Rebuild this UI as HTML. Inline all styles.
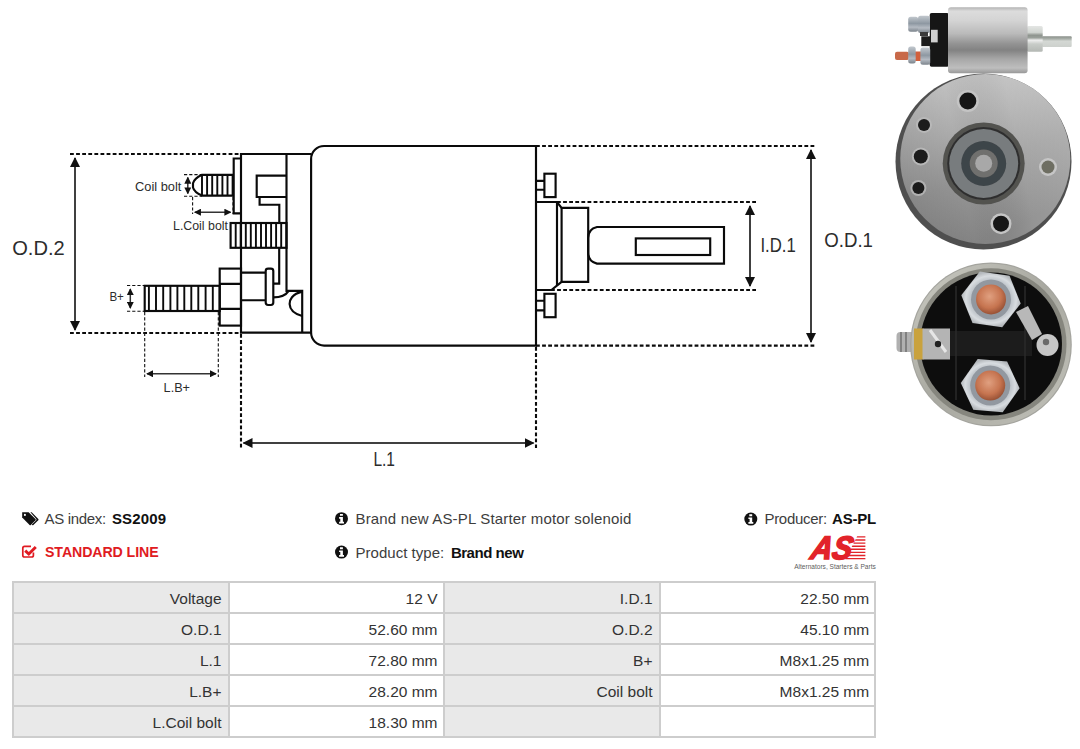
<!DOCTYPE html>
<html lang="en">
<head>
<meta charset="utf-8">
<title>SS2009 - Starter motor solenoid</title>
<style>
html,body{margin:0;padding:0;background:#fff;}
body{width:1080px;height:749px;position:relative;overflow:hidden;font-family:"Liberation Sans",sans-serif;color:#333;}
#dia{position:absolute;left:0;top:0;width:1080px;height:749px;}
#dia text{font-family:"Liberation Sans",sans-serif;fill:#2c2c2c;}
.info{position:absolute;font-size:15px;line-height:20px;white-space:nowrap;color:#3d3d3d;}
.info b{color:#111;font-weight:bold;}
.info svg{position:absolute;}
.red{color:#e01b22;}
table{position:absolute;left:12px;top:581px;width:864px;border-collapse:collapse;table-layout:fixed;font-size:15.5px;}
td{height:31px;padding:2px 6px 0 0;text-align:right;border:2px solid #cdcdcd;color:#333;box-sizing:border-box;}
td.l{background:#e9e9e9;}
td:nth-child(4){padding-right:4.8px;}
td:nth-child(2){padding-right:5.5px;}
</style>
</head>
<body>
<svg id="dia" viewBox="0 0 1080 749">
<defs>
<marker id="ah" viewBox="0 0 10 10" refX="9" refY="5" markerWidth="10" markerHeight="10" markerUnits="userSpaceOnUse" orient="auto-start-reverse"><path d="M0 0L10 5L0 10Z" fill="#111"/></marker>
<marker id="as" viewBox="0 0 8 8" refX="7" refY="4" markerWidth="7" markerHeight="7" markerUnits="userSpaceOnUse" orient="auto-start-reverse"><path d="M0 0L8 4L0 8Z" fill="#111"/></marker>
</defs>
<!-- heavy dashed extension lines -->
<g fill="none" stroke="#0b0b0b" stroke-width="2.1" stroke-dasharray="3.8 2.3">
<path d="M70 154H241"/><path d="M70 333H241"/>
<path d="M536 146H816"/><path d="M536 345.6H816"/>
<path d="M557 202H756"/><path d="M551 290H756"/>
<path d="M241 334V448"/><path d="M536 347V448"/>
</g>
<!-- thin dashed lines -->
<g fill="none" stroke="#111" stroke-width="1.1" stroke-dasharray="3.2 2">
<path d="M184 174.6H202"/><path d="M184 196.2H202"/>
<path d="M192.6 197V214"/><path d="M233 197V214"/>
<path d="M127 285.5H144.7"/><path d="M127 311.3H144.7"/>
<path d="M144.7 312V377"/><path d="M218.3 312V377"/>
</g>
<!-- dimension arrows -->
<g fill="none" stroke="#404040" stroke-width="2">
<path d="M75 158V330" marker-start="url(#ah)" marker-end="url(#ah)"/>
<path d="M811 150V342" marker-start="url(#ah)" marker-end="url(#ah)"/>
<path d="M750 206V286" marker-start="url(#ah)" marker-end="url(#ah)"/>
<path d="M243.5 443H533.5" marker-start="url(#ah)" marker-end="url(#ah)"/>
</g>
<g fill="none" stroke="#333" stroke-width="1.5">
<path d="M187.8 177.5V193.5" marker-start="url(#as)" marker-end="url(#as)"/>
<path d="M194.8 212.2H230.5" marker-start="url(#as)" marker-end="url(#as)"/>
<path d="M130.3 289V308" marker-start="url(#as)" marker-end="url(#as)"/>
<path d="M147 373.8H216" marker-start="url(#as)" marker-end="url(#as)"/>
</g>
<!-- solenoid outline -->
<g fill="none" stroke="#0a0a0a" stroke-width="2.15" stroke-linejoin="miter">
<path d="M536 146H324.1A13 13 0 0 0 311.1 159V332.6A13 13 0 0 0 324.1 345.6H536Z"/>
<path d="M311.1 154H241V332.6H311.1"/>
<path d="M286.5 154V290.8H302.2V332.6"/>
<path d="M241 158.5H233.7V213.3H241"/>
<path d="M233.7 174.8H202Q194.2 178.6 193 183.2V187.4Q194.2 192 202 195.6H233.7"/>
<path d="M286.5 175.6H256.7V197H286.5"/>
<path d="M259.6 197V204.7H279.3V223"/>
<rect x="230.6" y="223" width="55.9" height="24.8"/>
<path d="M279.2 247.8V283.6H273.3"/>
<rect x="265.7" y="268.6" width="7.6" height="36.4" rx="2.4"/>
<path d="M241 272.6H265.7M241 300.2H265.7"/>
<path d="M273.3 297.3Q284.5 297.3 288.7 290.8"/>
<path d="M302.2 291.6C292 294 289.4 300 289.6 304C289.8 308.5 293 313.5 302.2 316"/>
<rect x="219.7" y="268.6" width="21.3" height="57"/>
<path d="M219.7 283.9H241M219.7 308.9H241"/>
<rect x="144.7" y="285.8" width="75" height="25.2"/>
<!-- right side -->
<path d="M536 180.8H544.4M536 189.7H544.4"/><rect x="544.4" y="173.7" width="11.2" height="23.4"/>
<path d="M536 300.7H544.4M536 310.3H544.4"/><rect x="544.4" y="293.8" width="11.2" height="23.4"/>
<path d="M536 202H557L561.6 207.8H588.2V281.8H561.6L551.4 290H536"/>
<path d="M557 202V285.6M561.6 207.8V281.8"/>
<path d="M724 227H597Q588.2 229 588.2 238V252.6Q588.2 261.5 597 263.6H724Z"/>
<rect x="635.8" y="238.4" width="74.4" height="16.6"/>
</g>
<g fill="none" stroke="#0a0a0a" stroke-width="1.9">
<path d="M202.0 175V195.5M207.1 175V195.5M212.2 175V195.5M217.3 175V195.5M222.4 175V195.5M227.5 175V195.5M232.6 175V195.5"/>
<path d="M235.7 223V247.8M240.7 223V247.8M245.8 223V247.8M250.8 223V247.8M255.9 223V247.8M261.0 223V247.8M266.0 223V247.8M271.1 223V247.8M276.1 223V247.8M281.2 223V247.8"/>
<path d="M148.9 285.8V311M156 285.8V311M163.2 285.8V311M170.4 285.8V311M177.4 285.8V311M184.3 285.8V311M191.3 285.8V311M198.3 285.8V311M205.6 285.8V311M212.8 285.8V311"/>
</g>
<!-- product photos (vector approximations) -->
<defs>
<linearGradient id="cyl" x1="0" y1="0" x2="0" y2="1">
<stop offset="0" stop-color="#b2b2b2"/><stop offset=".06" stop-color="#dcdcdc"/><stop offset=".2" stop-color="#d4d4d4"/><stop offset=".4" stop-color="#bababa"/><stop offset=".55" stop-color="#949494"/><stop offset=".65" stop-color="#828282"/><stop offset=".78" stop-color="#a6a6a6"/><stop offset=".92" stop-color="#bebebe"/><stop offset="1" stop-color="#989898"/>
</linearGradient>
<linearGradient id="plg" x1="0" y1="0" x2="0" y2="1">
<stop offset="0" stop-color="#e4e6e4"/><stop offset=".25" stop-color="#d0d4d0"/><stop offset=".36" stop-color="#8e948e"/><stop offset=".46" stop-color="#9aa09a"/><stop offset=".55" stop-color="#eeeeee"/><stop offset=".7" stop-color="#c8ccc8"/><stop offset="1" stop-color="#b4b8b4"/>
</linearGradient>
<linearGradient id="shg" x1="0" y1="0" x2="0" y2="1">
<stop offset="0" stop-color="#8a908a"/><stop offset=".25" stop-color="#aab0aa"/><stop offset=".45" stop-color="#d4d8d4"/><stop offset="1" stop-color="#cdd1cd"/>
</linearGradient>
<linearGradient id="nutg" x1="0" y1="0" x2="0" y2="1">
<stop offset="0" stop-color="#c2c8ce"/><stop offset=".45" stop-color="#8e98a2"/><stop offset=".7" stop-color="#b4bac2"/><stop offset="1" stop-color="#7c848c"/>
</linearGradient>
<linearGradient id="face" x1=".15" y1=".1" x2=".55" y2=".95">
<stop offset="0" stop-color="#c4c4c4"/><stop offset=".3" stop-color="#b0b0b0"/><stop offset=".6" stop-color="#9a9a9a"/><stop offset="1" stop-color="#868686"/>
</linearGradient>
<linearGradient id="sheen" x1="0" y1=".6" x2="1" y2=".4">
<stop offset="0" stop-color="#000" stop-opacity=".14"/><stop offset=".35" stop-color="#000" stop-opacity=".02"/><stop offset=".7" stop-color="#fff" stop-opacity=".12"/><stop offset="1" stop-color="#fff" stop-opacity=".22"/>
</linearGradient>
<radialGradient id="pin" cx=".45" cy=".45" r=".6">
<stop offset="0" stop-color="#d0d0d0"/><stop offset=".45" stop-color="#a8a8a8"/><stop offset="1" stop-color="#6e6e6e"/>
</radialGradient>
<radialGradient id="cu" cx=".45" cy=".4" r=".65">
<stop offset="0" stop-color="#e0a080"/><stop offset=".6" stop-color="#c67450"/><stop offset="1" stop-color="#8e4a30"/>
</radialGradient>
<radialGradient id="nut2" cx=".5" cy=".5" r=".5">
<stop offset="0" stop-color="#a0a6ac"/><stop offset=".65" stop-color="#b8bec4"/><stop offset=".85" stop-color="#d8dce0"/><stop offset="1" stop-color="#b4b8bc"/>
</radialGradient>
<linearGradient id="ring" x1="0" y1="0" x2="1" y2="1">
<stop offset="0" stop-color="#cacac2"/><stop offset=".5" stop-color="#a8a8a0"/><stop offset="1" stop-color="#c2c2ba"/>
</linearGradient>
<filter id="soft" x="-5%" y="-5%" width="110%" height="110%"><feGaussianBlur stdDeviation=".7"/></filter>
</defs>
<g filter="url(#soft)">
<!-- photo 1 : side view -->
<rect x="1042" y="36.3" width="29.7" height="10.7" rx="1" fill="url(#shg)"/>
<rect x="1027" y="26" width="15.7" height="25.7" rx="1.5" fill="url(#plg)"/>
<rect x="929.7" y="13" width="19.3" height="53.7" rx="2" fill="#171717"/>
<rect x="921.3" y="36.3" width="10" height="9.8" fill="#1b1b1b"/>
<rect x="931" y="29.8" width="6.7" height="12.6" fill="#cfcfcf"/>
<rect x="908.2" y="16.7" width="10" height="15" rx="2.5" fill="url(#nutg)"/>
<rect x="918" y="15.7" width="12" height="17.3" rx="2.5" fill="url(#nutg)"/>
<rect x="920" y="32" width="8" height="4" fill="#3a3a3a"/>
<rect x="895" y="51.7" width="14" height="8.4" rx="2" fill="#c8694a"/>
<rect x="914" y="51.5" width="8" height="9.5" fill="#d2603c"/>
<rect x="908.2" y="46.6" width="7.5" height="16.8" rx="2.5" fill="url(#nutg)"/>
<rect x="920.4" y="47.5" width="9.8" height="17.3" rx="2.5" fill="url(#nutg)"/>
<rect x="948" y="7.2" width="79.6" height="66" rx="3" fill="url(#cyl)"/>
<!-- photo 2 : front face -->
<circle cx="983.5" cy="161.5" r="88" fill="#505050"/>
<circle cx="985.3" cy="159" r="85" fill="url(#face)"/>
<circle cx="985.3" cy="159" r="85" fill="url(#sheen)"/>
<circle cx="983.7" cy="163.5" r="41" fill="#525250"/>
<circle cx="983.7" cy="163.5" r="36.5" fill="#2e2e2e"/>
<circle cx="983.7" cy="163.5" r="34.5" fill="#787c7e"/>
<circle cx="983.7" cy="163.5" r="22.5" fill="#3e4448"/>
<circle cx="983.7" cy="163.5" r="14" fill="#70706e"/>
<circle cx="983.7" cy="163.3" r="8.5" fill="#a8a8a8"/>
<circle cx="967.8" cy="100.9" r="11" fill="#c4c4c4"/><circle cx="967.8" cy="100.9" r="8.5" fill="#161616"/>
<circle cx="924" cy="124.9" r="8" fill="#b8b8b8"/><circle cx="924" cy="124.9" r="6" fill="#1c1c1c"/>
<circle cx="920.8" cy="156.5" r="9" fill="#b8b8b8"/><circle cx="920.8" cy="156.5" r="7" fill="#1c1c1c"/>
<circle cx="918.4" cy="188" r="8" fill="#b0b0b0"/><circle cx="918.4" cy="188" r="6" fill="#1c1c1c"/>
<circle cx="1001" cy="223.7" r="10.5" fill="#c4c4c4"/><circle cx="1001" cy="223.7" r="8" fill="#161616"/>
<circle cx="1048" cy="167" r="9" fill="#c6c6c6"/><circle cx="1048" cy="167" r="6.5" fill="#6e6e62"/>
<!-- photo 3 : terminal side -->
<rect x="896.5" y="332" width="19" height="20" rx="4" fill="#b0b0b0"/>
<rect x="900" y="332" width="2" height="20" fill="#808080"/><rect x="905" y="332" width="2" height="20" fill="#808080"/>
<ellipse cx="991" cy="344.4" rx="80.8" ry="81.9" fill="#a4a49e"/>
<ellipse cx="991" cy="344.4" rx="79.6" ry="80.7" fill="url(#ring)"/>
<ellipse cx="991" cy="344.2" rx="75.5" ry="76" fill="#86867e"/>
<ellipse cx="991" cy="344" rx="71" ry="71.5" fill="#0f0f0f"/>
<rect x="950" y="331" width="82" height="25" fill="#1d1d1d"/>
<path d="M956 286V400M1025 286V400" stroke="#2a2a2a" stroke-width="1.5" fill="none"/>
<path d="M1016 312L1028 306L1042 334L1032 340Z" fill="#b8b8b8"/>
<circle cx="1047.5" cy="345" r="11" fill="#c6c6c6"/>
<circle cx="1046" cy="342" r="3.2" fill="#6a6a6a"/>
<rect x="914" y="328.5" width="9.5" height="31" fill="#c9a23c"/>
<rect x="922.5" y="328.5" width="27.5" height="31" fill="#b4b4b4"/>
<path d="M930 330L946 352" stroke="#e6e6e6" stroke-width="3" fill="none"/>
<circle cx="938" cy="344" r="3.2" fill="#222"/>
<polygon points="1020.7,303.6 1002.2,327.2 972.5,323.0 961.3,295.2 979.8,271.6 1009.5,275.8" fill="url(#nut2)"/>
<circle cx="991" cy="299.4" r="20" fill="#9298a0"/>
<circle cx="991" cy="299.4" r="15" fill="url(#cu)"/>
<polygon points="1019.6,388.2 1002.7,412.3 973.3,409.8 960.8,383.0 977.7,358.9 1007.1,361.4" fill="url(#nut2)"/>
<circle cx="990.2" cy="385.6" r="20" fill="#9298a0"/>
<circle cx="990.2" cy="385.6" r="15" fill="url(#cu)"/>
</g>
<!-- info icons -->
<g id="icons">
<path d="M22.2 512.2H28.6L35.5 519Q36.1 519.6 35.5 520.3L30.8 524.9Q30.2 525.4 29.6 524.9L22.2 517.6Z" fill="#111"/>
<circle cx="24.9" cy="514.9" r="1.05" fill="#fff"/>
<path d="M30.4 512.2H31.7L38.3 518.9Q38.9 519.6 38.3 520.3L33.4 525Q32.8 525.5 32.2 525L31.8 524.6L36.1 520.4Q36.9 519.6 36.1 518.8Z" fill="#111"/>
<path d="M33.4 552.5V555.2Q33.4 557 31.6 557H24.6Q22.8 557 22.8 555.2V548.2Q22.8 546.4 24.6 546.4H31" fill="none" stroke="#e01b22" stroke-width="1.7"/>
<path d="M25.2 550.6L28.8 554L35.8 547" fill="none" stroke="#e01b22" stroke-width="2.9"/>
<g transform="translate(0.0 0.0)"><circle cx="341.5" cy="518.7" r="6.5" fill="#111"/><path d="M340 513.9H342.9V515.8H340ZM339.1 517H342.9V521.7H344V523.4H339.1V521.7H340.3V518.7H339.1Z" fill="#fff"/></g>
<g transform="translate(0.0 33.4)"><circle cx="341.5" cy="518.7" r="6.5" fill="#111"/><path d="M340 513.9H342.9V515.8H340ZM339.1 517H342.9V521.7H344V523.4H339.1V521.7H340.3V518.7H339.1Z" fill="#fff"/></g>
<g transform="translate(409.3 0.4)"><circle cx="341.5" cy="518.7" r="6.5" fill="#111"/><path d="M340 513.9H342.9V515.8H340ZM339.1 517H342.9V521.7H344V523.4H339.1V521.7H340.3V518.7H339.1Z" fill="#fff"/></g>
</g>
<!-- AS logo -->
<g id="logo">
<g fill="#e2232a">
<path d="M857.2 536.2H865.4V537.6H856.5Z"/>
<path d="M855.6 539.3H865.4V540.7H854.9Z"/>
<path d="M854 542.4H865.4V543.8H853.3Z"/>
<path d="M852.4 545.5H865.4V546.9H851.7Z"/>
<path d="M850.8 548.6H865.4V550H850.1Z"/>
<path d="M849.2 551.7H865.4V553.1H848.5Z"/>
<path d="M847.6 554.8H865.4V556.2H846.9Z"/>
<path d="M846 557.9H865.4V559.3H845.3Z"/>
</g>
<text x="809.5" y="559.4" font-size="32.5" font-weight="bold" font-style="italic" textLength="41" lengthAdjust="spacingAndGlyphs" transform="translate(809.5 559.4) skewX(-12) translate(-809.5 -559.4)" style="fill:#e2232a;stroke:#e2232a;stroke-width:1.7px;paint-order:stroke">AS</text>
<text x="794.2" y="569.3" font-size="6.9" textLength="81.6" lengthAdjust="spacingAndGlyphs" style="fill:#5c5c5c">Alternators, Starters &amp; Parts</text>
</g>
<!-- labels -->
<g>
<text x="12.2" y="254.8" font-size="21" textLength="52.5" lengthAdjust="spacingAndGlyphs">O.D.2</text>
<text x="824.3" y="246.8" font-size="21" textLength="48.7" lengthAdjust="spacingAndGlyphs">O.D.1</text>
<text x="760.4" y="251.8" font-size="21" textLength="35.4" lengthAdjust="spacingAndGlyphs">I.D.1</text>
<text x="373.4" y="465.5" font-size="21" textLength="21.6" lengthAdjust="spacingAndGlyphs">L.1</text>
<text x="135" y="191.3" font-size="12.5" textLength="46.3" lengthAdjust="spacingAndGlyphs">Coil bolt</text>
<text x="173" y="230" font-size="12.5" textLength="55" lengthAdjust="spacingAndGlyphs">L.Coil bolt</text>
<text x="109.4" y="301.4" font-size="13.5" textLength="14.5" lengthAdjust="spacingAndGlyphs">B+</text>
<text x="163.6" y="391.8" font-size="13.5" textLength="26.4" lengthAdjust="spacingAndGlyphs">L.B+</text>
</g>
</svg>

<div class="info" style="left:44.6px;top:509.3px;"><span id="t1" style="letter-spacing:-0.34px">AS index:</span></div>
<div class="info" style="left:112px;top:509.3px;"><b id="t2" style="letter-spacing:0.12px">SS2009</b></div>
<div class="info red" style="left:45px;top:542.1px;"><b id="t3" style="color:#e01b22;font-size:14.2px;letter-spacing:-0.1px">STANDARD LINE</b></div>
<div class="info" style="left:355.5px;top:509.3px;"><span id="t4" style="letter-spacing:0.17px">Brand new AS-PL Starter motor solenoid</span></div>
<div class="info" style="left:355.5px;top:542.6px;"><span id="t5" style="letter-spacing:0.03px">Product type:</span></div>
<div class="info" style="left:450.9px;top:542.6px;"><b id="t6" style="letter-spacing:-0.47px">Brand new</b></div>
<div class="info" style="left:764.4px;top:509.3px;"><span id="t7" style="letter-spacing:-0.27px">Producer:</span></div>
<div class="info" style="left:832px;top:509.3px;"><b id="t8" style="letter-spacing:-0.2px">AS-PL</b></div>

<table>
<colgroup><col style="width:25%"><col style="width:25%"><col style="width:25%"><col style="width:25%"></colgroup>
<tr><td class="l">Voltage</td><td>12 V</td><td class="l">I.D.1</td><td>22.50 mm</td></tr>
<tr><td class="l">O.D.1</td><td>52.60 mm</td><td class="l">O.D.2</td><td>45.10 mm</td></tr>
<tr><td class="l">L.1</td><td>72.80 mm</td><td class="l">B+</td><td>M8x1.25 mm</td></tr>
<tr><td class="l">L.B+</td><td>28.20 mm</td><td class="l">Coil bolt</td><td>M8x1.25 mm</td></tr>
<tr><td class="l">L.Coil bolt</td><td>18.30 mm</td><td class="l"></td><td></td></tr>
</table>
</body>
</html>
